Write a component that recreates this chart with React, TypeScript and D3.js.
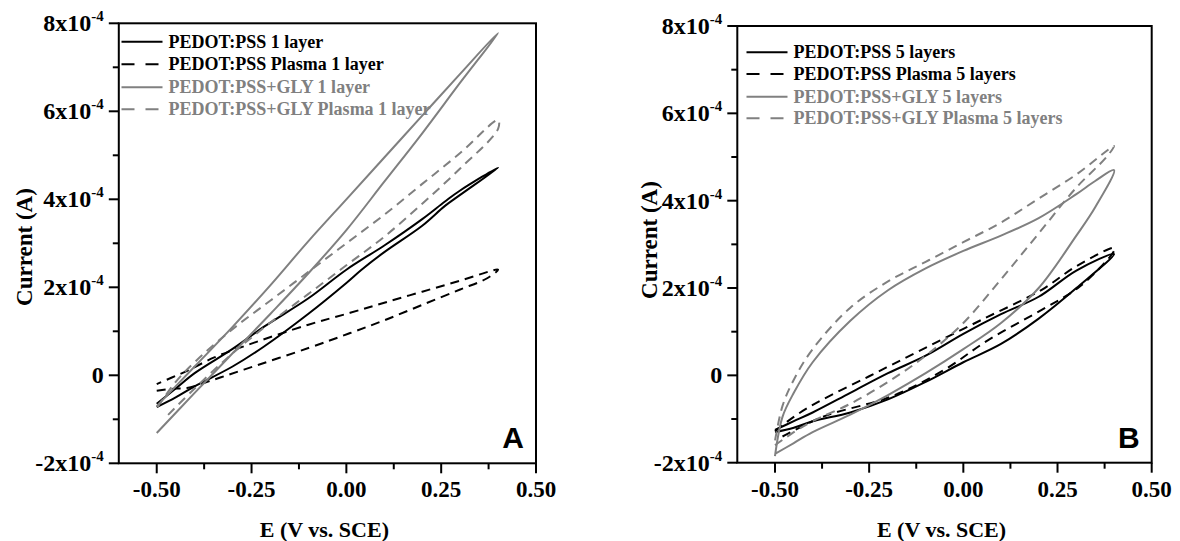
import React from 'react';
import * as d3 from 'd3';

type Pt = [number, number];

// current values are in units of 1e-4 A, potential in V vs. SCE
// panel A: 1 layer
const aPedot: Pt[] = [
  [-0.5, -0.72], [-0.45, -0.5], [-0.4, -0.25], [-0.3, 0.2], [-0.218, 0.65], [-0.1, 1.4], [0.0, 2.1], [0.04, 2.4],
  [0.1, 2.8], [0.2, 3.4], [0.26, 3.85], [0.3, 4.1], [0.4, 4.72],
  [0.3, 4.2], [0.26, 3.95], [0.2, 3.55], [0.1, 2.95], [0.0, 2.4], [-0.1, 1.75], [-0.218, 1.1], [-0.3, 0.6],
  [-0.4, 0.05], [-0.45, -0.3], [-0.5, -0.65],
];
const aPedotPlasma: Pt[] = [
  [-0.5, -0.35], [-0.45, -0.3], [-0.42, -0.29], [-0.35, -0.1], [-0.27, 0.13], [-0.1, 0.62], [0.01, 0.96],
  [0.1, 1.25], [0.2, 1.6], [0.3, 1.95], [0.37, 2.2], [0.4, 2.4],
  [0.3, 2.15], [0.2, 1.9], [0.1, 1.65], [0.01, 1.42], [-0.1, 1.15], [-0.27, 0.66], [-0.35, 0.4], [-0.42, 0.1],
  [-0.46, -0.05], [-0.5, -0.2],
];
const aGly: Pt[] = [
  [-0.5, -1.31], [-0.4, -0.4], [-0.3, 0.5], [-0.2, 1.4], [-0.1, 2.32], [0.0, 3.3], [0.1, 4.4], [0.2, 5.5],
  [0.3, 6.65], [0.4, 7.78],
  [0.3, 6.85], [0.2, 5.9], [0.1, 4.95], [0.0, 4.0], [-0.1, 3.05], [-0.2, 2.05], [-0.3, 1.1], [-0.4, 0.2],
  [-0.5, -0.7],
];
const aGlyPlasma: Pt[] = [
  [-0.47, -0.9], [-0.4, -0.3], [-0.3, 0.5], [-0.2, 1.2], [-0.1, 1.85], [0.0, 2.5], [0.1, 3.15], [0.2, 3.9],
  [0.3, 4.7], [0.4, 5.6],
  [0.4, 5.8], [0.3, 5.05], [0.2, 4.35], [0.1, 3.65], [0.0, 3.0], [-0.1, 2.35], [-0.2, 1.7], [-0.3, 1.05],
  [-0.4, 0.3], [-0.45, -0.15], [-0.5, -0.75],
];

// panel B: 5 layers
const bPedot: Pt[] = [
  [-0.5, -1.3], [-0.45, -1.2], [-0.4, -1.05], [-0.3, -0.85], [-0.2, -0.55], [-0.1, -0.15], [0.0, 0.3],
  [0.1, 0.72], [0.2, 1.3], [0.3, 2.0], [0.4, 2.78],
  [0.3, 2.4], [0.2, 1.8], [0.1, 1.4], [0.0, 0.95], [-0.1, 0.45], [-0.2, 0.05], [-0.3, -0.4], [-0.4, -0.85],
  [-0.45, -1.05], [-0.5, -1.25],
];
const bPedotPlasma: Pt[] = [
  [-0.48, -1.4], [-0.37, -0.94], [-0.19, -0.48], [-0.05, 0.13], [0.068, 0.82], [0.208, 1.5], [0.31, 2.04],
  [0.4, 2.85],
  [0.4, 2.92], [0.3, 2.5], [0.208, 1.96], [0.048, 1.27], [-0.11, 0.59], [-0.25, -0.02], [-0.39, -0.63],
  [-0.45, -0.95], [-0.5, -1.28],
];
const bGly: Pt[] = [
  [-0.5, -1.8], [-0.45, -1.55], [-0.4, -1.3], [-0.3, -0.9], [-0.2, -0.45], [-0.1, 0.05], [0.0, 0.6],
  [0.1, 1.2], [0.2, 2.0], [0.3, 3.2], [0.35, 3.85], [0.4, 4.7],
  [0.35, 4.45], [0.3, 4.15], [0.2, 3.6], [0.1, 3.2], [0.0, 2.85], [-0.1, 2.45], [-0.2, 1.95], [-0.3, 1.25],
  [-0.4, 0.3], [-0.45, -0.4], [-0.48, -0.95], [-0.5, -1.85],
];
const bGlyPlasma: Pt[] = [
  [-0.5, -1.6], [-0.45, -1.3], [-0.4, -1.05], [-0.3, -0.65], [-0.2, -0.15], [-0.1, 0.45], [0.0, 1.2],
  [0.1, 2.2], [0.2, 3.25], [0.3, 4.3], [0.38, 5.0],
  [0.4, 5.25], [0.3, 4.6], [0.2, 4.05], [0.1, 3.5], [0.0, 3.05], [-0.1, 2.6], [-0.2, 2.15], [-0.3, 1.55],
  [-0.4, 0.6], [-0.45, -0.1], [-0.48, -0.7], [-0.5, -1.5],
];

const aLabels = ['PEDOT:PSS 1 layer', 'PEDOT:PSS Plasma 1 layer', 'PEDOT:PSS+GLY 1 layer', 'PEDOT:PSS+GLY Plasma 1 layer'];
const bLabels = ['PEDOT:PSS 5 layers', 'PEDOT:PSS Plasma 5 layers', 'PEDOT:PSS+GLY 5 layers', 'PEDOT:PSS+GLY Plasma 5 layers'];

const xTicks = [-0.5, -0.25, 0, 0.25, 0.5];
const xMinor = [-0.375, -0.125, 0.125, 0.375];
const yTicks = [-2, 0, 2, 4, 6, 8];
const yMinor = [-1, 1, 3, 5, 7];

const GRAY = '#808080';
const SERIF = '"Liberation Serif", "Times New Roman", serif';
const styles = [
  { color: '#000', dash: null },
  { color: '#000', dash: '9,6' },
  { color: GRAY, dash: null },
  { color: GRAY, dash: '9,6' },
];

type PanelProps = {
  x0: number; x1: number; y0: number; y1: number;
  series: Pt[][]; labels: string[]; letter: string;
  legX: number; legRows: number[]; titleX: number; titleY: number;
};

const Panel = ({ x0, x1, y0, y1, series, labels, letter, legX, legRows, titleX, titleY }: PanelProps) => {
  const x = d3.scaleLinear().domain([-0.6, 0.5]).range([x0, x1]);
  const y = d3.scaleLinear().domain([-2e-4, 8e-4]).range([y1, y0]);
  const line = d3.line<Pt>()
    .x(d => x(d[0]))
    .y(d => y(d[1] * 1e-4))
    .curve(d3.curveCatmullRom.alpha(0.5));

  return (
    <g>
      <defs>
        <clipPath id={'clip' + letter}>
          <rect x={x0} y={y0} width={x1 - x0} height={y1 - y0} />
        </clipPath>
      </defs>
      <g clipPath={`url(#clip${letter})`}>
        {series.map((s, i) => (
          <path key={i} d={line(s) || ''} fill="none" stroke={styles[i].color} strokeWidth={2}
            strokeDasharray={styles[i].dash || undefined} strokeLinejoin="round" />
        ))}
      </g>
      <rect x={x0} y={y0} width={x1 - x0} height={y1 - y0} fill="none" stroke="#000" strokeWidth={2} />
      {xTicks.map(t => (
        <g key={'x' + t}>
          <line x1={x(t)} x2={x(t)} y1={y1} y2={y1 + 10} stroke="#000" strokeWidth={2} />
          <text x={x(t)} y={497} textAnchor="middle" fontFamily={SERIF} fontWeight="bold" fontSize={23}>
            {t.toFixed(2)}
          </text>
        </g>
      ))}
      {xMinor.map(t => (
        <line key={'xm' + t} x1={x(t)} x2={x(t)} y1={y1} y2={y1 + 6} stroke="#000" strokeWidth={2} />
      ))}
      {yTicks.map(t => (
        <g key={'y' + t}>
          <line x1={x0 - 10} x2={x0} y1={y(t * 1e-4)} y2={y(t * 1e-4)} stroke="#000" strokeWidth={2} />
          <text x={x0 - 15} y={y(t * 1e-4) + 8} textAnchor="end" fontFamily={SERIF} fontWeight="bold" fontSize={24}>
            {t === 0 ? '0' : (
              <>
                {t + 'x10'}
                <tspan dy={-10} fontSize={15}>-4</tspan>
              </>
            )}
          </text>
        </g>
      ))}
      {yMinor.map(t => (
        <line key={'ym' + t} x1={x0 - 6} x2={x0} y1={y(t * 1e-4)} y2={y(t * 1e-4)} stroke="#000" strokeWidth={2} />
      ))}
      {labels.map((lab, i) => (
        <g key={lab}>
          <line x1={legX} x2={legX + 41} y1={legRows[i]} y2={legRows[i]} stroke={styles[i].color} strokeWidth={2}
            strokeDasharray={styles[i].dash ? '13,11' : undefined} />
          <text x={legX + 47} y={legRows[i] + 6} fontFamily={SERIF} fontWeight="bold" fontSize={18} fill={styles[i].color}>
            {lab}
          </text>
        </g>
      ))}
      <text x={x1 - 12} y={y1 - 15} textAnchor="end" fontFamily='"Liberation Sans", Arial, sans-serif'
        fontWeight="bold" fontSize={30}>{letter}</text>
      <text x={(x0 + x1) / 2 - 3} y={537} textAnchor="middle" fontFamily={SERIF} fontWeight="bold" fontSize={22}>
        E (V vs. SCE)
      </text>
      <text transform={`translate(${titleX},${titleY}) rotate(-90)`} textAnchor="middle" fontFamily={SERIF}
        fontWeight="bold" fontSize={23}>Current (A)</text>
    </g>
  );
};

export default function App() {
  return (
    <svg width={1180} height={541} style={{ position: 'absolute', left: 0, top: 0, background: '#fff' }}>
      <Panel x0={118.8} x1={536} y0={23.3} y1={463.3}
        series={[aPedot, aPedotPlasma, aGly, aGlyPlasma]} labels={aLabels} letter="A"
        legX={121.5} legRows={[41.7, 64.3, 87.3, 109.3]} titleX={32} titleY={247} />
      <Panel x0={737.3} x1={1151.7} y0={26} y1={462.7}
        series={[bPedot, bPedotPlasma, bGly, bGlyPlasma]} labels={bLabels} letter="B"
        legX={746.5} legRows={[52.3, 74, 96.7, 118.3]} titleX={657} titleY={240} />
    </svg>
  );
}
